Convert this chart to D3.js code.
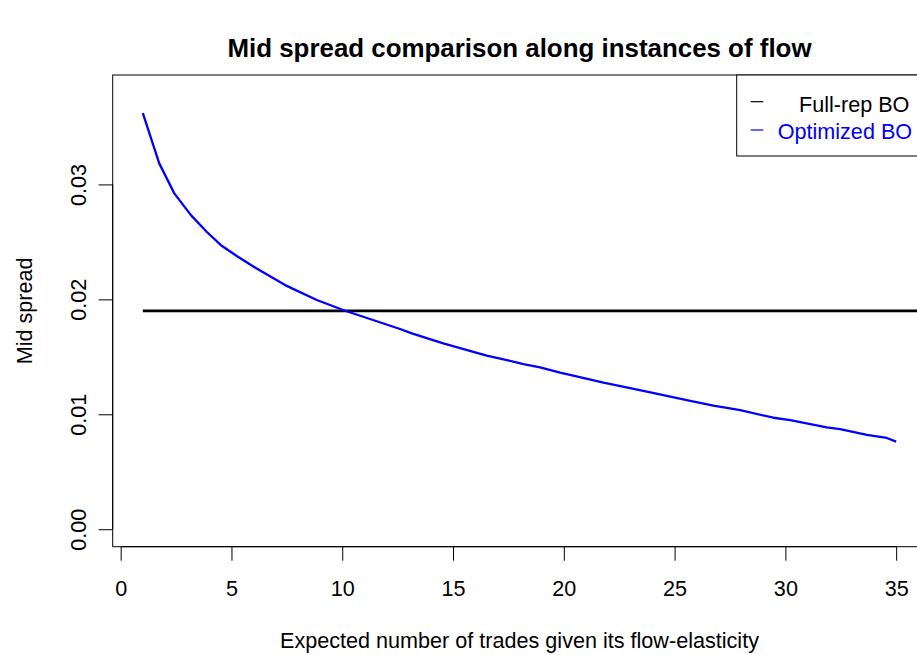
<!DOCTYPE html>
<html>
<head>
<meta charset="utf-8">
<script src="https://cdn.jsdelivr.net/npm/d3@7"></script>
<style>
  html, body { margin: 0; padding: 0; background: #fff; }
  svg { display: block; font-family: "Liberation Sans", Arial, sans-serif; }
</style>
</head>
<body>
<div id="chart"></div>
<script>
// ---- data ----
const chartTitle = "Mid spread comparison along instances of flow";
const xLabel = "Expected number of trades given its flow-elasticity";
const yLabel = "Mid spread";
const xTicks = [0, 5, 10, 15, 20, 25, 30, 35];
const yTicks = [0.00, 0.01, 0.02, 0.03];
const yTickLabels = ["0.00", "0.01", "0.02", "0.03"];
const seriesNames = ["Full-rep BO", "Optimized BO"];
const seriesColors = ["#000000", "#0000ff"];

// Optimized BO (blue curve)
const optX = [1.0, 1.74, 2.42, 3.17, 3.88, 4.56, 5.24, 5.81, 6.06, 7.42, 8.85, 10.13,
              12.61, 13.14, 14.56, 16.52, 17.43, 18.18, 18.93, 19.83, 20.28, 21.79,
              23.75, 25.55, 26.75, 27.96, 29.46, 30.22, 31.87, 32.47, 33.68, 34.58, 35.0];
const optY = [0.03620, 0.03183, 0.02922, 0.02733, 0.02588, 0.02466, 0.02377, 0.02307,
              0.02278, 0.02124, 0.01994, 0.01901, 0.01742, 0.01704, 0.01617, 0.01510,
              0.01472, 0.01437, 0.01409, 0.01362, 0.01342, 0.01275, 0.01197, 0.01124,
              0.01075, 0.01037, 0.00970, 0.00950, 0.00887, 0.00870, 0.00820, 0.00794, 0.00762];

// Full-rep BO (black horizontal line)
const fullX = [1, 40];
const fullY = [0.0190, 0.0190];

// ---- layout ----
const W = 917, H = 655;
const plot = { left: 112.7, right: 926.3, top: 75, bottom: 546.7 };
const baseFont = 21.6;

const svg = d3.select("#chart").append("svg")
  .attr("width", W).attr("height", H);

const x = d3.scaleLinear().domain([-0.36, 36.36]).range([plot.left, plot.right]);
const y = d3.scaleLinear().domain([-0.00152, 0.03952]).range([plot.bottom, plot.top]);

svg.append("defs").append("clipPath").attr("id", "clip")
  .append("rect")
  .attr("x", plot.left).attr("y", plot.top)
  .attr("width", plot.right - plot.left).attr("height", plot.bottom - plot.top);

// plot box
svg.append("rect")
  .attr("x", plot.left).attr("y", plot.top)
  .attr("width", plot.right - plot.left).attr("height", plot.bottom - plot.top)
  .attr("fill", "none").attr("stroke", "#000").attr("stroke-width", 1);

// x axis
const xAxis = d3.axisBottom(x).tickValues(xTicks).tickSize(14).tickPadding(20)
  .tickFormat(d3.format("d"));
const gx = svg.append("g").attr("transform", `translate(0,${plot.bottom})`).call(xAxis);
gx.select(".domain").attr("d", `M${x(xTicks[0])},0H${x(xTicks[xTicks.length - 1])}`)
  .attr("stroke", "#000");
gx.selectAll(".tick line").attr("stroke", "#000");
gx.selectAll(".tick text").attr("font-size", baseFont).attr("fill", "#000")
  .attr("font-family", "Liberation Sans, Arial, sans-serif");

// y axis
const yAxis = d3.axisLeft(y).tickValues(yTicks).tickSize(14)
  .tickFormat((d, i) => yTickLabels[i]);
const gy = svg.append("g").attr("transform", `translate(${plot.left},0)`).call(yAxis);
gy.select(".domain").attr("d", `M0,${y(yTicks[0])}V${y(yTicks[yTicks.length - 1])}`)
  .attr("stroke", "#000");
gy.selectAll(".tick line").attr("stroke", "#000");
gy.selectAll(".tick text")
  .attr("font-size", baseFont).attr("fill", "#000")
  .attr("font-family", "Liberation Sans, Arial, sans-serif")
  .attr("x", null).attr("dy", null)
  .attr("text-anchor", "middle")
  .attr("transform", "translate(-27,0) rotate(-90)")
  .attr("y", 0)
  .attr("dy", "0");

// series lines
const line = d3.line().x(d => x(d[0])).y(d => y(d[1]));
const gLines = svg.append("g").attr("clip-path", "url(#clip)");
gLines.append("path")
  .datum(fullX.map((v, i) => [v, fullY[i]]))
  .attr("d", line).attr("fill", "none")
  .attr("stroke", seriesColors[0]).attr("stroke-width", 2.6);
gLines.append("path")
  .datum(optX.map((v, i) => [v, optY[i]]))
  .attr("d", line).attr("fill", "none")
  .attr("stroke", seriesColors[1]).attr("stroke-width", 2.3)
  .attr("stroke-linejoin", "round");

// title & labels
svg.append("text").attr("x", (plot.left + plot.right) / 2).attr("y", 57)
  .attr("text-anchor", "middle").attr("font-weight", "bold")
  .attr("font-size", 25.9).attr("fill", "#000").text(chartTitle);
svg.append("text").attr("x", (plot.left + plot.right) / 2).attr("y", 648)
  .attr("text-anchor", "middle").attr("font-size", baseFont).attr("fill", "#000").text(xLabel);
svg.append("text").attr("transform", `translate(32,${(plot.top + plot.bottom) / 2}) rotate(-90)`)
  .attr("text-anchor", "middle").attr("font-size", baseFont).attr("fill", "#000").text(yLabel);

// legend
const lg = svg.append("g");
lg.append("rect").attr("x", 736.7).attr("y", plot.top)
  .attr("width", 260).attr("height", 156 - plot.top)
  .attr("fill", "#fff").attr("stroke", "#000").attr("stroke-width", 1);
const legendRows = [
  { name: seriesNames[0], color: seriesColors[0], ly: 101.7, ty: 112.3, tx: 799 },
  { name: seriesNames[1], color: seriesColors[1], ly: 130, ty: 139.3, tx: 777.7 }
];
legendRows.forEach(r => {
  lg.append("line").attr("x1", 750.7).attr("x2", 763.3)
    .attr("y1", r.ly).attr("y2", r.ly).attr("stroke", r.color).attr("stroke-width", 1.2);
  lg.append("text").attr("x", r.tx).attr("y", r.ty)
    .attr("font-size", baseFont).attr("fill", r.color).text(r.name);
});
</script>
</body>
</html>
